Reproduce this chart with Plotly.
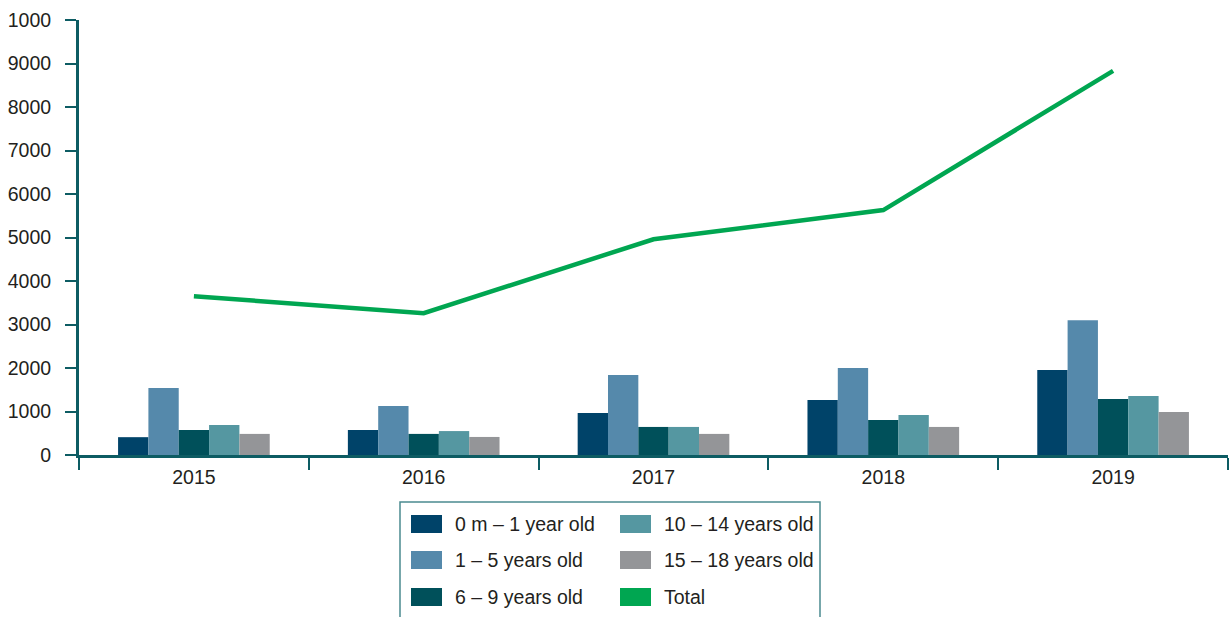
import plotly.graph_objects as go

years = ["2015", "2016", "2017", "2018", "2019"]
age_0_1 = [410, 575, 965, 1265, 1955]
age_1_5 = [1540, 1125, 1840, 2000, 3100]
age_6_9 = [575, 485, 645, 805, 1285]
age_10_14 = [690, 550, 645, 920, 1355]
age_15_18 = [485, 415, 485, 645, 990]
total = [3650, 3260, 4960, 5630, 8830]

series_names = ["0 m \u2013 1 year old", "1 \u2013 5 years old", "6 \u2013 9 years old",
                "10 \u2013 14 years old", "15 \u2013 18 years old"]
series_values = [age_0_1, age_1_5, age_6_9, age_10_14, age_15_18]
series_colors = ["#004369", "#5589ab", "#00505a", "#5597a1", "#949598"]
total_name = "Total"
total_color = "#00a651"

ytick_vals = [0, 1000, 2000, 3000, 4000, 5000, 6000, 7000, 8000, 9000, 10000]
ytick_text = ["0", "1000", "2000", "3000", "4000", "5000", "6000", "7000", "8000", "9000", "1000"]

W, H = 1231, 617
PLOT_L, PLOT_R, PLOT_T, PLOT_B = 79, 1228, 20, 455  # plot-area edges in window pixels
ML, MT, MR, MB = PLOT_L, PLOT_T, W - PLOT_R, H - PLOT_B
PW, PH = PLOT_R - PLOT_L, PLOT_B - PLOT_T

axis_color = "#0d5c63"
text_color = "#231f20"
font_family = "Liberation Sans, Arial, Helvetica, sans-serif"
font_size = 19.5

fig = go.Figure()
for name, vals, col in zip(series_names, series_values, series_colors):
    fig.add_trace(go.Bar(x=years, y=vals, name=name, marker=dict(color=col, line=dict(width=0)),
                         showlegend=False))
fig.add_trace(go.Scatter(x=years, y=total, name=total_name, mode="lines",
                         line=dict(color=total_color, width=4.5), showlegend=False))


def px_x(px):
    return (px - PLOT_L) / PW


def px_y(py):
    return (PLOT_B - py) / PH


# legend (drawn in paper coordinates, two columns x three rows)
legend_entries = [
    (series_names[0], series_colors[0]), (series_names[1], series_colors[1]),
    (series_names[2], series_colors[2]), (series_names[3], series_colors[3]),
    (series_names[4], series_colors[4]), (total_name, total_color),
]
shapes = [dict(type="rect", xref="paper", yref="paper",
               x0=px_x(400), x1=px_x(820), y0=px_y(502), y1=px_y(630),
               line=dict(color="#4b8a90", width=1.5), fillcolor="white", layer="below")]
annotations = []
col_swatch_x = [411, 620]
col_text_x = [455, 664]
row_center_y = [524, 560, 597]
for i, (name, col) in enumerate(legend_entries):
    c, r = i // 3, i % 3
    cy = row_center_y[r]
    shapes.append(dict(type="rect", xref="paper", yref="paper",
                       x0=px_x(col_swatch_x[c]), x1=px_x(col_swatch_x[c] + 31),
                       y0=px_y(cy - 9), y1=px_y(cy + 9),
                       line=dict(width=0), fillcolor=col))
    annotations.append(dict(xref="paper", yref="paper", x=px_x(col_text_x[c]), y=px_y(cy),
                            xanchor="left", yanchor="middle", text=name, showarrow=False,
                            xshift=-2,
                            font=dict(family=font_family, size=font_size, color=text_color)))

fig.update_layout(
    width=W, height=H,
    margin=dict(l=ML, r=MR, t=MT, b=MB, autoexpand=False),
    paper_bgcolor="white", plot_bgcolor="white",
    barmode="group", bargap=0.34, bargroupgap=0,
    font=dict(family=font_family, size=font_size, color=text_color),
    showlegend=False,
    shapes=shapes, annotations=annotations,
)
fig.update_xaxes(
    type="category", showline=True, linecolor=axis_color, linewidth=3,
    ticks="outside", tickson="boundaries", ticklen=12, tickwidth=2, tickcolor=axis_color,
    ticklabelstandoff=3,
    showgrid=False, zeroline=False, tickfont=dict(size=font_size),
)
fig.update_yaxes(
    range=[0, 10000], tickvals=ytick_vals, ticktext=ytick_text,
    showline=True, linecolor=axis_color, linewidth=3,
    ticks="outside", ticklen=11, tickwidth=2, tickcolor=axis_color,
    ticklabelstandoff=10,
    showgrid=False, zeroline=False, tickfont=dict(size=font_size),
)

# remove the page's default 8px body margin so the figure fills the window exactly
fig.write_html("out.html",
               config={"displayModeBar": False},
               post_script="document.body.style.margin='0';document.body.style.overflow='hidden';")
